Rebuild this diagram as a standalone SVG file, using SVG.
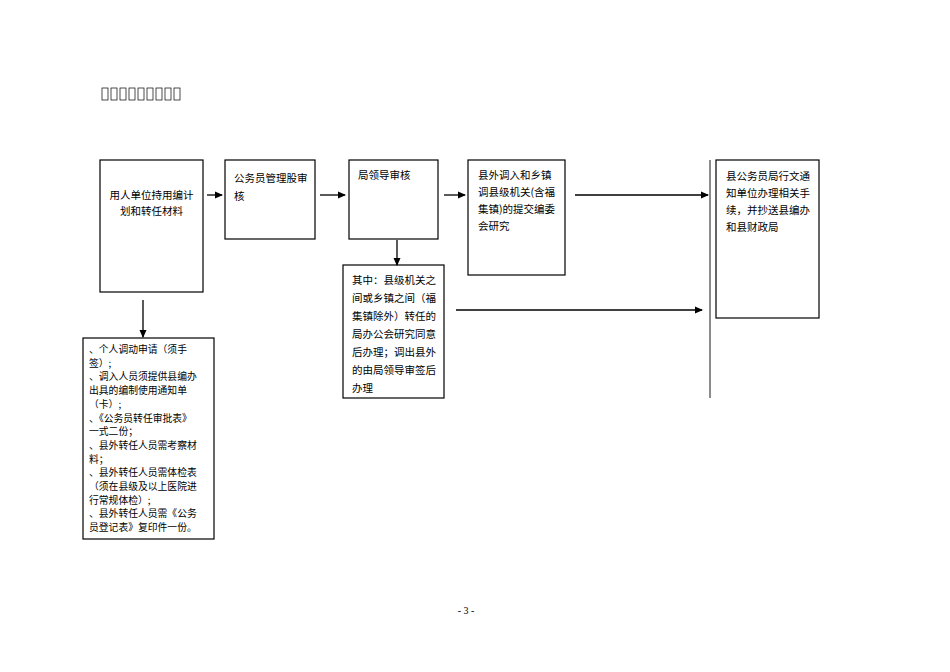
<svg xmlns="http://www.w3.org/2000/svg" width="950" height="672" viewBox="0 0 950 672">
<style>
.b{fill:#fff;stroke:#000;stroke-width:1.2}
text{font-family:"Noto Sans CJK SC","Liberation Serif",serif;font-size:10.5px;fill:#000}
.s{font-size:9.8px}
.c{stroke:#000;stroke-width:1.3;fill:none}
.t{fill:none;stroke:#000;stroke-width:0.7}
</style>
<defs><marker id="a" markerWidth="8" markerHeight="8" refX="7" refY="4" orient="auto" markerUnits="userSpaceOnUse"><path d="M0,0.5L8,4L0,7.5z" fill="#000"/></marker></defs>
<g id="title"><rect class="t" x="102" y="88" width="6" height="12"/><rect class="t" x="111" y="88" width="6" height="12"/><rect class="t" x="120" y="88" width="6" height="12"/><rect class="t" x="129" y="88" width="6" height="12"/><rect class="t" x="138" y="88" width="6" height="12"/><rect class="t" x="147" y="88" width="6" height="12"/><rect class="t" x="156" y="88" width="6" height="12"/><rect class="t" x="165" y="88" width="6" height="12"/><rect class="t" x="174" y="88" width="6" height="12"/></g>
<g id="n1"><rect class="b" x="100" y="160" width="103" height="132"/><text x="151.5" y="199" text-anchor="middle">用人单位持用编计</text><text x="151.5" y="215" text-anchor="middle">划和转任材料</text></g>
<g id="n2"><rect class="b" x="225" y="160" width="90" height="79"/><text x="234" y="182">公务员管理股审</text><text x="234" y="200">核</text></g>
<g id="n3"><rect class="b" x="349" y="160" width="89" height="79"/><text x="358" y="179">局领导审核</text></g>
<g id="n4"><rect class="b" x="468" y="160" width="97" height="115"/><text x="478" y="179">县外调入和乡镇</text><text x="478" y="196">调县级机关(含福</text><text x="478" y="213">集镇)的提交编委</text><text x="478" y="230">会研究</text></g>
<g id="n5"><rect class="b" x="716" y="160" width="103" height="158"/><text x="726" y="180">县公务员局行文通</text><text x="726" y="197">知单位办理相关手</text><text x="726" y="214">续，并抄送县编办</text><text x="726" y="231">和县财政局</text></g>
<g id="n6"><rect class="b" x="343" y="265" width="101" height="133"/><text x="352" y="284">其中：县级机关之</text><text x="352" y="302">间或乡镇之间（福</text><text x="352" y="320">集镇除外）转任的</text><text x="352" y="338">局办公会研究同意</text><text x="352" y="356">后办理；调出县外</text><text x="352" y="374">的由局领导审签后</text><text x="352" y="392">办理</text></g>
<g id="n7"><rect class="b" x="83" y="338" width="131" height="201"/><text class="s" x="89" y="353">、个人调动申请（须手</text><text class="s" x="89" y="366.7">签）;</text><text class="s" x="89" y="380.4">、调入人员须提供县编办</text><text class="s" x="89" y="394.1">出具的编制使用通知单</text><text class="s" x="89" y="407.8">（卡）;</text><text class="s" x="89" y="421.5">、《公务员转任审批表》</text><text class="s" x="89" y="435.2">一式二份；</text><text class="s" x="89" y="448.9">、县外转任人员需考察材</text><text class="s" x="89" y="462.6">料；</text><text class="s" x="89" y="476.3">、县外转任人员需体检表</text><text class="s" x="89" y="490">（须在县级及以上医院进</text><text class="s" x="89" y="503.7">行常规体检）;</text><text class="s" x="89" y="517.4">、县外转任人员需《公务</text><text class="s" x="89" y="531.1">员登记表》复印件一份。</text></g>
<g id="connectors">
<line class="c" x1="207" y1="195" x2="222" y2="195" marker-end="url(#a)"/>
<line class="c" x1="320" y1="195" x2="345" y2="195" marker-end="url(#a)"/>
<line class="c" x1="444" y1="195" x2="465" y2="195" marker-end="url(#a)"/>
<line class="c" x1="575" y1="195" x2="708" y2="195" marker-end="url(#a)"/>
<line class="c" x1="456" y1="310" x2="702" y2="310" marker-end="url(#a)"/>
<line class="c" x1="397" y1="240" x2="397" y2="265" marker-end="url(#a)"/>
<line class="c" x1="143" y1="300" x2="143" y2="337" marker-end="url(#a)"/>
<line x1="710" y1="160" x2="710" y2="398" stroke="#000" stroke-width="0.9"/>
</g>
<text x="466" y="614" text-anchor="middle" style="font-family:'Liberation Serif',serif;font-size:10px">- 3 -</text>
</svg>
